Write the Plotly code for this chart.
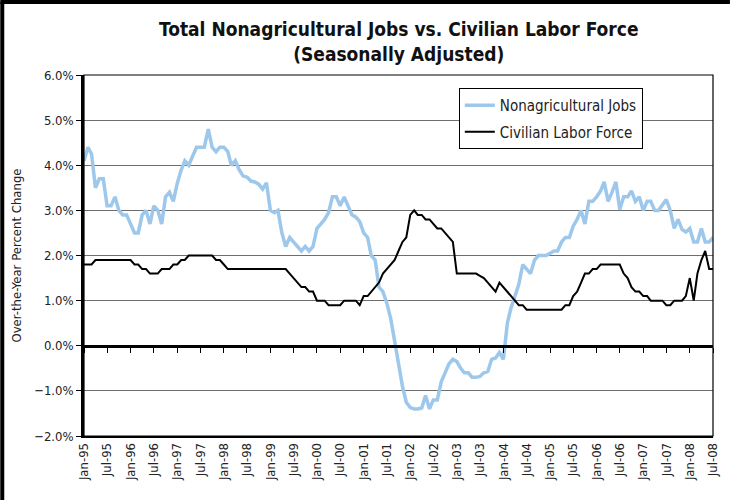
import pandas as pd
import plotly.graph_objects as go

# monthly, Jan-95 .. Jul-08, over-the-year % change
months = pd.date_range("1995-01-01", "2008-07-01", freq="MS")

nonag_jobs = [
    4.1, 4.4, 4.25, 3.5, 3.7, 3.7, 3.1, 3.1, 3.3, 3.0, 2.9, 2.9,          # 1995
    2.7, 2.5, 2.5, 2.9, 3.0, 2.7, 3.1, 3.0, 2.7, 3.3, 3.4, 3.2,           # 1996
    3.6, 3.9, 4.1, 4.0, 4.2, 4.4, 4.4, 4.4, 4.8, 4.4, 4.3, 4.4,           # 1997
    4.4, 4.3, 4.0, 4.1, 3.9, 3.76, 3.74, 3.65, 3.63, 3.58, 3.47, 3.61,    # 1998
    3.0, 2.95, 3.0, 2.5, 2.2, 2.4, 2.3, 2.2, 2.1, 2.2, 2.1, 2.2,          # 1999
    2.6, 2.7, 2.8, 2.95, 3.3, 3.3, 3.1, 3.3, 3.1, 2.9, 2.85, 2.75,        # 2000
    2.5, 2.4, 2.0, 1.9, 1.3, 1.2, 0.95, 0.6, 0.1, -0.45, -0.9, -1.25,     # 2001
    -1.37, -1.4, -1.4, -1.38, -1.1, -1.4, -1.2, -1.2, -0.8, -0.6, -0.4, -0.3,   # 2002
    -0.35, -0.5, -0.6, -0.6, -0.7, -0.7, -0.68, -0.6, -0.57, -0.3, -0.27, -0.15,  # 2003
    -0.3, 0.5, 0.84, 1.1, 1.36, 1.8, 1.7, 1.6, 1.9, 2.0, 2.0, 2.0,        # 2004
    2.05, 2.1, 2.1, 2.3, 2.4, 2.4, 2.65, 2.8, 3.0, 2.7, 3.2, 3.2,         # 2005
    3.3, 3.43, 3.63, 3.2, 3.4, 3.63, 3.02, 3.3, 3.3, 3.43, 3.2, 3.3,      # 2006
    3.0, 3.2, 3.2, 3.0, 3.0, 3.13, 3.24, 3.0, 2.6, 2.8, 2.58, 2.52,       # 2007
    2.6, 2.3, 2.3, 2.6, 2.3, 2.3, 2.4,                                    # 2008
]

labor_force = [
    1.8, 1.8, 1.8, 1.9, 1.9, 1.9, 1.9, 1.9, 1.9, 1.9, 1.9, 1.9,
    1.9, 1.8, 1.8, 1.7, 1.7, 1.6, 1.6, 1.6, 1.7, 1.7, 1.7, 1.8,
    1.8, 1.9, 1.9, 2.0, 2.0, 2.0, 2.0, 2.0, 2.0, 2.0, 1.9, 1.9,
    1.8, 1.7, 1.7, 1.7, 1.7, 1.7, 1.7, 1.7, 1.7, 1.7, 1.7, 1.7,
    1.7, 1.7, 1.7, 1.7, 1.7, 1.6, 1.5, 1.4, 1.3, 1.3, 1.2, 1.2,
    1.0, 1.0, 1.0, 0.9, 0.9, 0.9, 0.9, 1.0, 1.0, 1.0, 1.0, 0.9,
    1.1, 1.1, 1.2, 1.3, 1.4, 1.6, 1.7, 1.8, 1.9, 2.1, 2.3, 2.4,
    2.9, 3.0, 2.9, 2.9, 2.8, 2.8, 2.7, 2.6, 2.6, 2.5, 2.4, 2.3,
    1.6, 1.6, 1.6, 1.6, 1.6, 1.6, 1.55, 1.5, 1.4, 1.3, 1.2, 1.4,
    1.3, 1.2, 1.1, 1.0, 0.9, 0.9, 0.8, 0.8, 0.8, 0.8, 0.8, 0.8,
    0.8, 0.8, 0.8, 0.8, 0.9, 0.9, 1.1, 1.2, 1.4, 1.6, 1.6, 1.7,
    1.7, 1.8, 1.8, 1.8, 1.8, 1.8, 1.8, 1.6, 1.5, 1.3, 1.2, 1.2,
    1.1, 1.1, 1.0, 1.0, 1.0, 1.0, 0.9, 0.9, 1.0, 1.0, 1.0, 1.1,
    1.5, 1.0, 1.6, 1.9, 2.1, 1.7, 1.7,
]

tick_dates = pd.date_range("1995-01-01", "2008-07-01", freq="6MS")

W, H = 732, 500
L, R, T, B = 84, 17, 75, 64
PW, PH = W - L - R, H - T - B


def px_x(x):
    return (x - L) / PW


def px_y(y):
    return (H - B - y) / PH


FONT = "Liberation Sans Narrow, DejaVu Sans Condensed, Arial Narrow, sans-serif"

fig = go.Figure()
fig.add_trace(go.Scatter(
    x=months, y=nonag_jobs, name="Nonagricultural Jobs", mode="lines",
    line=dict(color="#9dc8eb", width=3.5), legendgroup="a",
))
fig.add_trace(go.Scatter(
    x=months, y=labor_force, name="Civilian Labor Force", mode="lines",
    line=dict(color="black", width=2), legendgroup="b",
))
# carrier for the zero-line axis with tick marks
fig.add_trace(go.Scatter(
    x=months, y=labor_force, xaxis="x2", mode="lines",
    line=dict(width=0), showlegend=False, hoverinfo="skip",
))

fig.update_layout(
    width=W, height=H,
    margin=dict(l=L, r=R, t=T, b=B),
    paper_bgcolor="white", plot_bgcolor="white",
    font=dict(family=FONT, size=14, color="#222"),
    xaxis=dict(
        range=[months[0], months[-1]],
        tickvals=tick_dates, tickformat="%b-%y", tickangle=-90,
        ticks="", showgrid=False, showline=True, linecolor="black", linewidth=1.5,
        tickfont=dict(size=13, color="#222"),
    ),
    xaxis2=dict(
        overlaying="x", anchor="free", position=2 / 8,
        range=[months[0], months[-1]],
        tickvals=tick_dates, showticklabels=False,
        ticks="outside", ticklen=5, tickwidth=1, tickcolor="black",
        showgrid=False, showline=True, linecolor="black", linewidth=2.5,
    ),
    yaxis=dict(
        range=[-2, 6], dtick=1, tickformat=".1f", ticksuffix="%",
        showgrid=True, gridcolor="#6e6e6e", gridwidth=1.3,
        zeroline=False, showline=True, linecolor="black", linewidth=2.5,
        ticks="outside", ticklen=5, tickcolor="black",
        tickfont=dict(size=13, color="#222"),
        title=dict(text="Over-the-Year Percent Change", font=dict(size=13, color="#222"), standoff=10),
    ),
    legend=dict(
        x=px_x(460), y=px_y(88), xanchor="left", yanchor="top",
        bgcolor="white", bordercolor="black", borderwidth=1,
        font=dict(size=15, color="#222"), tracegroupgap=4,
        itemwidth=30,
    ),
    annotations=[
        dict(text="<b>Total Nonagricultural Jobs vs. Civilian Labor Force<br>(Seasonally Adjusted)</b>",
             xref="paper", yref="paper", x=0.5, y=px_y(16), xanchor="center", yanchor="top",
             showarrow=False, font=dict(family=FONT, size=19, color="#111")),
    ],
    shapes=[
        # plot area border
        dict(type="rect", xref="paper", yref="paper", x0=0, x1=1, y0=0, y1=1,
             line=dict(color="black", width=1.2), layer="above"),
        # outer frame (left and top)
        dict(type="line", xref="paper", yref="paper",
             x0=px_x(2), x1=px_x(2), y0=px_y(2), y1=px_y(H + 10),
             line=dict(color="black", width=4)),
        dict(type="line", xref="paper", yref="paper",
             x0=px_x(0), x1=px_x(W), y0=px_y(2), y1=px_y(2),
             line=dict(color="black", width=4)),
    ],
    showlegend=True,
)

fig.write_html("out.html", config={"displayModeBar": False},
               post_script="document.body.style.margin='0px';")
